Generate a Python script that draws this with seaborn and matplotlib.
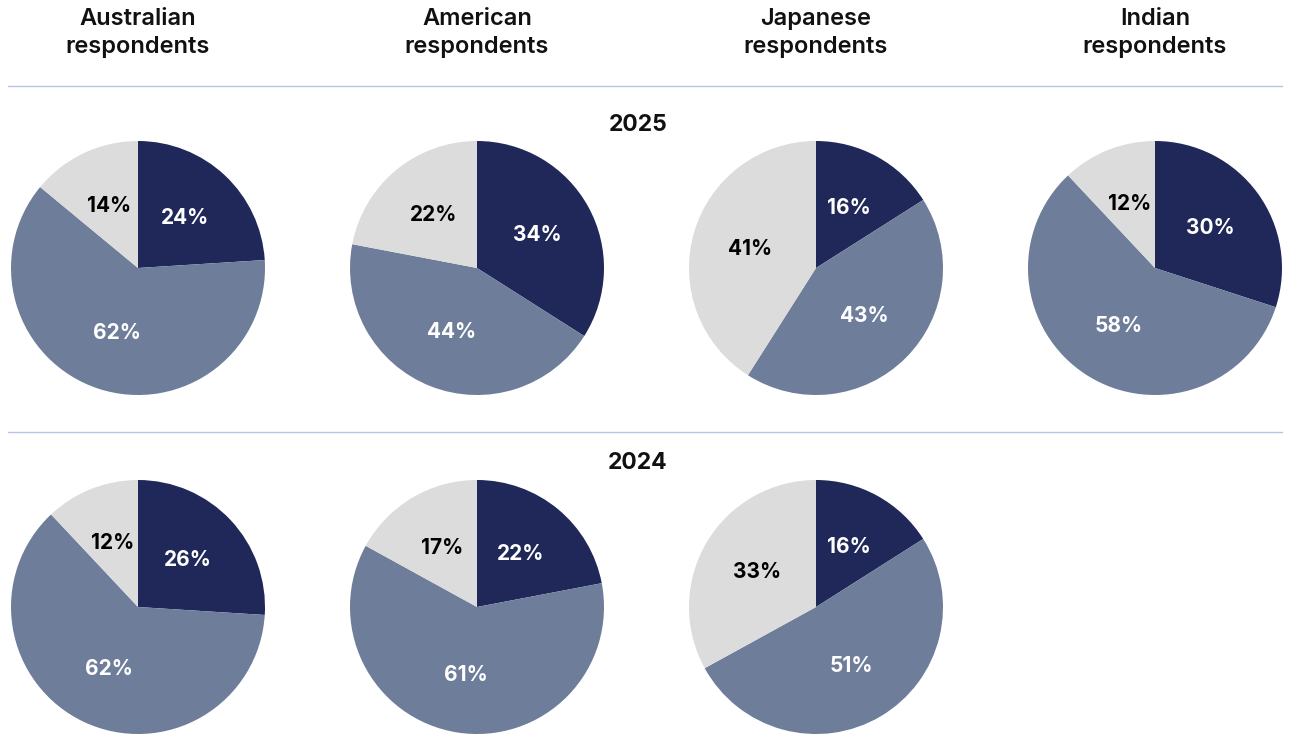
import matplotlib
matplotlib.use("Agg")
import matplotlib.pyplot as plt
import seaborn as sns
from matplotlib.lines import Line2D

# ── Data ──────────────────────────────────────────────────────────────────────
COUNTRIES = ["Australian", "American", "Japanese", "Indian"]
SUBTITLE = "respondents"
YEARS = ["2025", "2024"]

# share order: dark, mid, light (clockwise from 12 o'clock)
VALUES_2025 = [[24, 62, 14], [34, 44, 22], [16, 43, 41], [30, 58, 12]]
VALUES_2024 = [[26, 62, 12], [22, 61, 17], [16, 51, 33], None]

COLORS = ["#1f2858", "#6d7d9a", "#dcdcdc"]
LABEL_COLORS = ["white", "white", "black"]

# ── Style ─────────────────────────────────────────────────────────────────────
sns.set_theme(style="white")
plt.rcParams["font.family"] = ["Inter", "DejaVu Sans"]

W, H = 1296, 736
fig = plt.figure(figsize=(W / 100, H / 100), dpi=100)
fig.patch.set_facecolor("white")

COL_X = [138, 477, 816, 1155]
ROW_Y = [268, 607]
RADIUS = 127


def add_pie(values, cx, cy):
    size = 2 * RADIUS
    ax = fig.add_axes([(cx - RADIUS) / W, 1 - (cy + RADIUS) / H, size / W, size / H])
    wedges, texts, autotexts = ax.pie(
        values, colors=COLORS, startangle=90, counterclock=False,
        autopct="%d%%", pctdistance=0.54, radius=1,
        wedgeprops=dict(linewidth=0),
        textprops=dict(fontsize=15, fontweight="bold"))
    for t, c in zip(autotexts, LABEL_COLORS):
        t.set_color(c)
    ax.set_xlim(-1, 1)
    ax.set_ylim(-1, 1)
    ax.set_aspect("equal")
    ax.axis("off")


for row, data in enumerate([VALUES_2025, VALUES_2024]):
    for col, vals in enumerate(data):
        if vals is None:
            continue
        add_pie(vals, COL_X[col], ROW_Y[row])

# column headers (two lines each)
for col, name in enumerate(COUNTRIES):
    for y, line in zip([19, 47], [name, SUBTITLE]):
        fig.text(COL_X[col] / W, 1 - y / H, line, ha="center", va="center",
                 fontsize=17, fontweight="semibold", color="#111111")

# year labels
for y, year in zip([125, 463], YEARS):
    fig.text(638 / W, 1 - y / H, year, ha="center", va="center",
             fontsize=16.5, fontweight="bold", color="#111111")

# divider lines
for y in [86, 432]:
    fig.add_artist(Line2D([8 / W, 1282 / W], [1 - y / H, 1 - y / H],
                          color="#b7c4e2", linewidth=1))

fig.savefig("out.png", dpi=100)
